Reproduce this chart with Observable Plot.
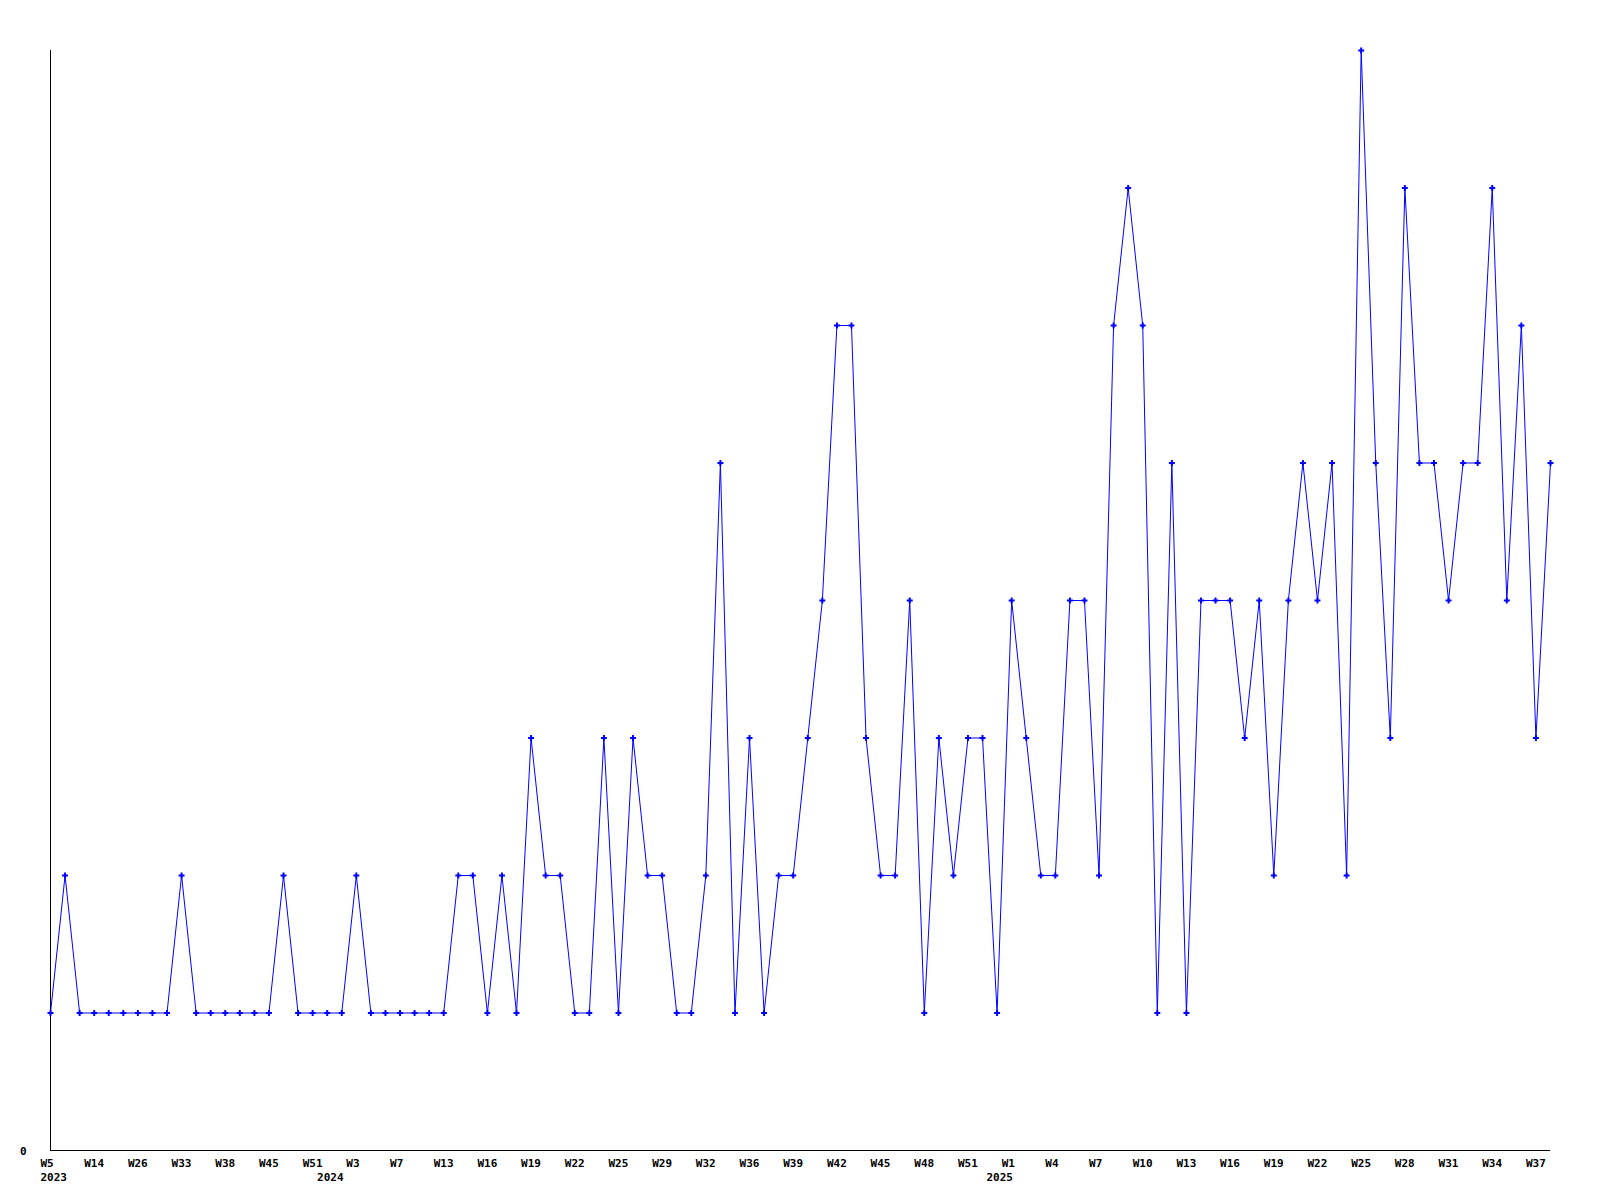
<!DOCTYPE html>
<html>
<head>
<meta charset="utf-8">
<script src="https://cdn.jsdelivr.net/npm/d3@7"></script>
<script src="https://cdn.jsdelivr.net/npm/@observablehq/plot@0.6"></script>
<style>
  html, body { margin: 0; padding: 0; background: #ffffff; }
  #chart svg { display: block; }
</style>
</head>
<body>
<div id="chart"></div>
<script>
// Weekly counts, one per data point (in order)
const counts = [
  1, 2, 1, 1, 1, 1, 1, 1, 1, 2,
  1, 1, 1, 1, 1, 1, 2, 1, 1, 1,
  1, 2, 1, 1, 1, 1, 1, 1, 2, 2,
  1, 2, 1, 3, 2, 2, 1, 1, 3, 1,
  3, 2, 2, 1, 1, 2, 5, 1, 3, 1,
  2, 2, 3, 4, 6, 6, 3, 2, 2, 4,
  1, 3, 2, 3, 3, 1, 4, 3, 2, 2,
  4, 4, 2, 6, 7, 6, 1, 5, 1, 4,
  4, 4, 3, 4, 2, 4, 5, 4, 5, 2,
  8, 5, 3, 7, 5, 5, 4, 5, 5, 7,
  4, 6, 3, 5
];

// Tick labels (every third point)
const tickPoints = [0, 3, 6, 9, 12, 15, 18, 21, 24, 27, 30, 33, 36, 39, 42, 45, 48, 51, 54, 57, 60, 63, 66, 69, 72, 75, 78, 81, 84, 87, 90, 93, 96, 99, 102];
const tickLabels = ["W5", "W14", "W26", "W33", "W38", "W45", "W51", "W3", "W7", "W13", "W16", "W19", "W22", "W25", "W29", "W32", "W36", "W39", "W42", "W45", "W48", "W51", "W1", "W4", "W7", "W10", "W13", "W16", "W19", "W22", "W25", "W28", "W31", "W34", "W37"];

// Year labels and the tick they belong to
const years = ["2023", "2024", "2025"];
const yearPoints = [0, 21, 66];

const data = counts.map((v, i) => ({i, v}));
const ticks = tickPoints.map((p, k) => ({p, label: tickLabels[k]}));

const font = "'DejaVu Sans Mono', monospace";
const blue = "#0000ff";

const chart = Plot.plot({
  width: 1600,
  height: 1200,
  marginLeft: 50,
  marginRight: 50,
  marginTop: 50,
  marginBottom: 50,
  style: {background: "#ffffff", fontFamily: font, fontSize: "11px", fontWeight: "bold", color: "#000"},
  x: {domain: [0, counts.length - 1], axis: null},
  y: {domain: [0, 8], axis: null},
  marks: [
    Plot.ruleX([0], {y1: 0, y2: 8, stroke: "#000", strokeWidth: 1, shapeRendering: "crispEdges"}),
    Plot.ruleY([0], {x1: 0, x2: counts.length - 1, stroke: "#000", strokeWidth: 1, shapeRendering: "crispEdges"}),
    Plot.text(ticks, {x: "p", y: 0, text: "label", textAnchor: "start", dx: -10, dy: 12.5, lineAnchor: "middle",
      fill: "#000", fontFamily: font, fontSize: 11, fontWeight: "bold"}),
    Plot.text([0], {x: yearPoints[0], y: 0, text: () => years[0], textAnchor: "start", dx: -10, dy: 27, lineAnchor: "middle",
      fill: "#000", fontFamily: font, fontSize: 11, fontWeight: "bold"}),
    Plot.text([0], {x: yearPoints[1], y: 0, text: () => years[1], textAnchor: "middle", dx: -26, dy: 27, lineAnchor: "middle",
      fill: "#000", fontFamily: font, fontSize: 11, fontWeight: "bold"}),
    Plot.text([0], {x: yearPoints[2], y: 0, text: () => years[2], textAnchor: "middle", dx: -12, dy: 27, lineAnchor: "middle",
      fill: "#000", fontFamily: font, fontSize: 11, fontWeight: "bold"}),
    Plot.text([0], {x: 0, y: 0, text: (d) => String(d), textAnchor: "end", dx: -24, dy: 1, lineAnchor: "middle",
      fill: "#000", fontFamily: font, fontSize: 11, fontWeight: "bold"}),
    Plot.line(data, {x: "i", y: "v", stroke: blue, strokeWidth: 1, curve: "linear"}),
    Plot.dot(data, {x: "i", y: "v", symbol: "cross", r: 2.5, fill: blue, stroke: "none"})
  ]
});

document.getElementById("chart").appendChild(chart);
</script>
</body>
</html>
